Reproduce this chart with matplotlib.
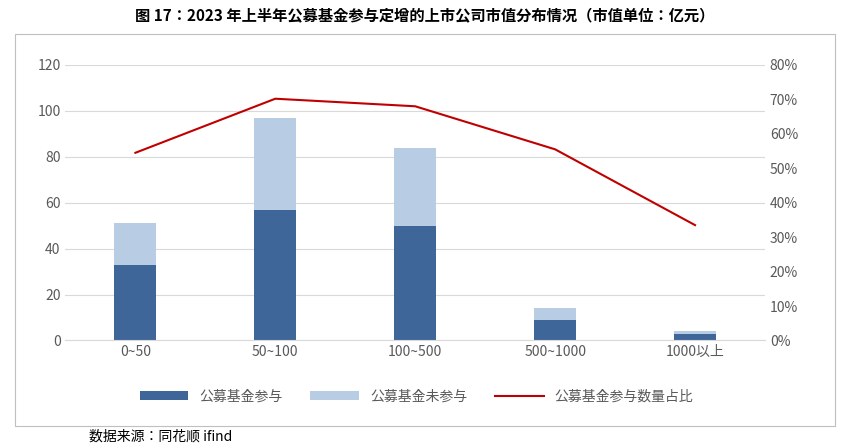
import matplotlib
matplotlib.use("Agg")
import matplotlib.pyplot as plt
from matplotlib.patches import Rectangle
from matplotlib.ticker import FuncFormatter

plt.rcParams['font.family'] = ['Noto Sans CJK JP', 'Noto Sans CJK SC', 'DejaVu Sans']

categories = ["0~50", "50~100", "100~500", "500~1000", "1000以上"]
participated = [33, 57, 50, 9, 3]
not_participated = [18, 40, 34, 5, 1]
ratio = [0.545, 0.702, 0.68, 0.555, 0.335]

fig = plt.figure(figsize=(8.5, 4.48), dpi=100)
fig.text(0.5, 0.965, "图 17：2023 年上半年公募基金参与定增的上市公司市值分布情况（市值单位：亿元）",
         ha='center', va='center', fontsize=11, fontweight='bold')
fig.patches.append(Rectangle((0.018, 0.05), 0.964, 0.875, transform=fig.transFigure,
                             fill=False, edgecolor='#bfbfbf', lw=0.8))
ax = fig.add_axes([0.077, 0.24, 0.823, 0.615])
x = range(len(categories))
c1, c2 = '#3f6699', '#b8cce4'
ax.bar(x, participated, width=0.3, color=c1, label='公募基金参与')
ax.bar(x, not_participated, width=0.3, bottom=participated, color=c2, label='公募基金未参与')
ax.set_ylim(0, 120)
ax.set_yticks(range(0, 121, 20))
ax.set_xticks(list(x))
ax.set_xticklabels(categories)
ax.set_xlim(-0.5, 4.5)
ax.grid(axis='y', color='#d9d9d9', lw=0.8)
ax.set_axisbelow(True)
for s in ['top', 'right', 'left']:
    ax.spines[s].set_visible(False)
ax.spines['bottom'].set_color('#d9d9d9')
ax.tick_params(length=0, colors='#595959', labelsize=10)
ax2 = ax.twinx()
ax2.plot(list(x), ratio, color='#c00000', lw=1.5, label='公募基金参与数量占比')
ax2.set_ylim(0, 0.8)
ax2.set_yticks([i / 10 for i in range(9)])
ax2.yaxis.set_major_formatter(FuncFormatter(lambda v, p: f"{v*100:.0f}%"))
for s in ax2.spines.values():
    s.set_visible(False)
ax2.tick_params(length=0, colors='#595959', labelsize=10)
h1, l1 = ax.get_legend_handles_labels()
h2, l2 = ax2.get_legend_handles_labels()
fig.legend(h1 + h2, l1 + l2, loc='center', bbox_to_anchor=(0.49, 0.115), ncol=3,
           frameon=False, fontsize=10, labelcolor='#595959', handlelength=3.5, columnspacing=2)
fig.text(0.105, 0.025, "数据来源：同花顺 ifind", fontsize=10, va='center')
fig.savefig("out.png", dpi=100)
